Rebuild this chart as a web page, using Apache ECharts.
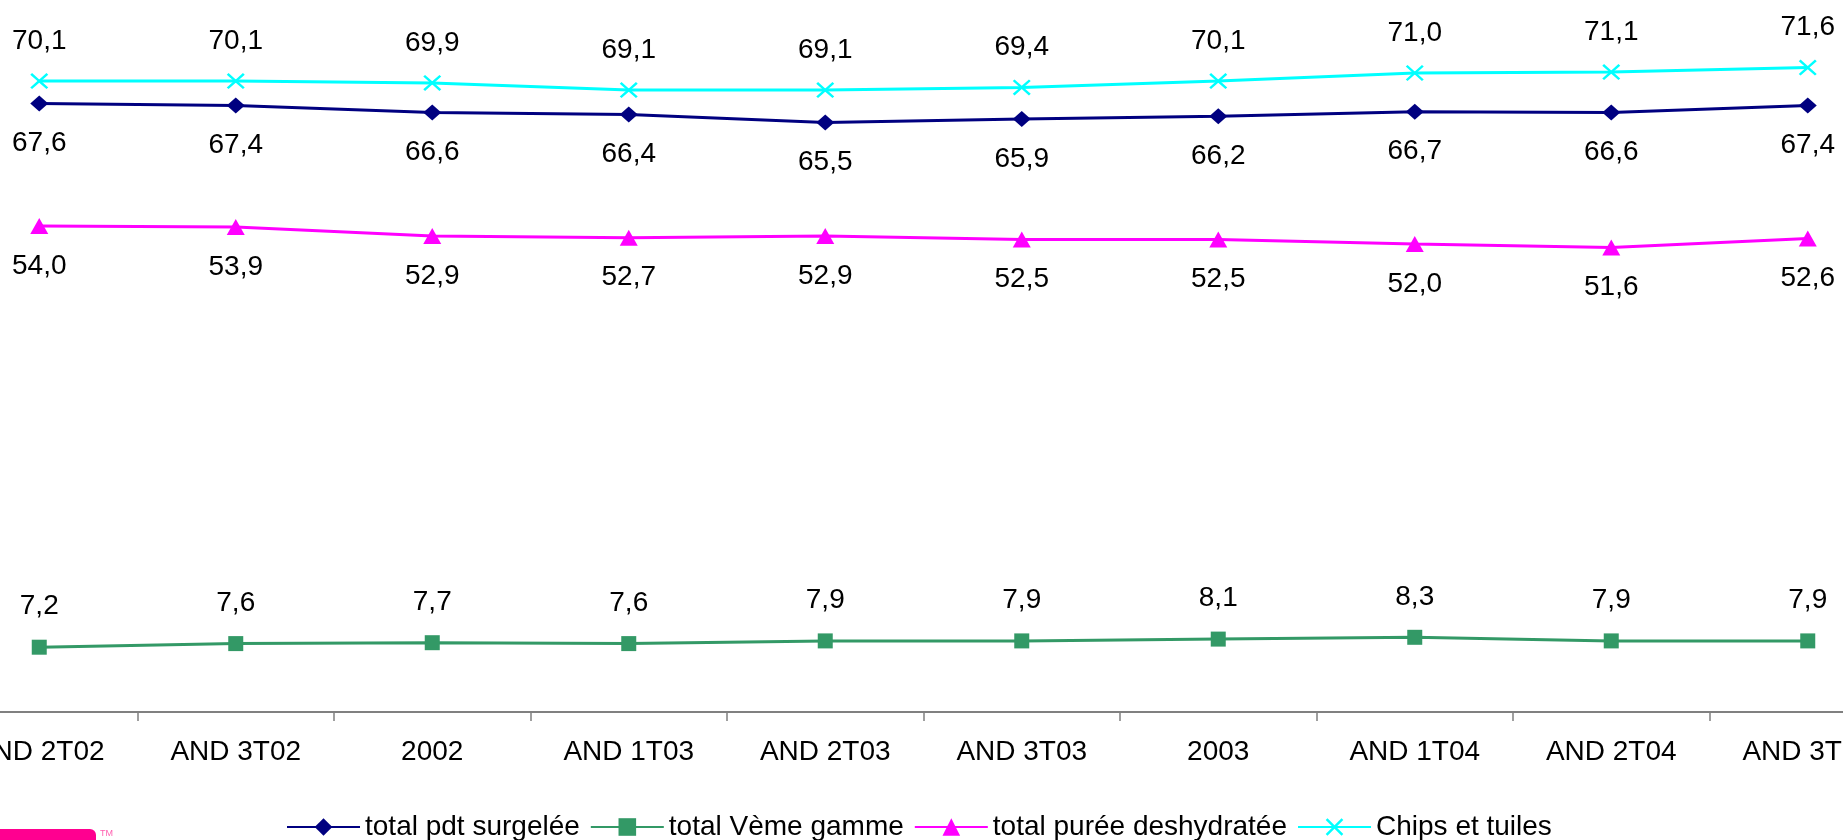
<!DOCTYPE html>
<html>
<head>
<meta charset="utf-8">
<script src="https://cdn.jsdelivr.net/npm/echarts@6/dist/echarts.min.js"></script>
<style>
  html, body { margin: 0; padding: 0; background: #ffffff; overflow: hidden; width: 1843px; height: 840px; }
  /* The plot is wider than the page: the outer category bands run past both edges */
  #chart { position: absolute; left: -59px; top: -8px; width: 1965px; height: 848px; }
</style>
</head>
<body>
<div id="chart"></div>
<script>
// Periods (rolling quarters and full years)
const categories = ['AND 2T02', 'AND 3T02', '2002', 'AND 1T03', 'AND 2T03', 'AND 3T03', '2003', 'AND 1T04', 'AND 2T04', 'AND 3T04'];

// Series values
const surgelee = [67.6, 67.4, 66.6, 66.4, 65.5, 65.9, 66.2, 66.7, 66.6, 67.4];
const vemeGamme = [7.2, 7.6, 7.7, 7.6, 7.9, 7.9, 8.1, 8.3, 7.9, 7.9];
const puree = [54.0, 53.9, 52.9, 52.7, 52.9, 52.5, 52.5, 52.0, 51.6, 52.6];
const chips = [70.1, 70.1, 69.9, 69.1, 69.1, 69.4, 70.1, 71.0, 71.1, 71.6];

const FONT = '"Liberation Sans", Arial, sans-serif';
const OX = 59, OY = 8; // container offset relative to the page
const fmt = p => p.value.toFixed(1).replace('.', ',');
const crossPath = 'path://M0,1L1,0L5,4L9,0L10,1L6,5L10,9L9,10L5,6L1,10L0,9L4,5Z';

function makeSeries(name, data, color, symbol, size, labelPos, dist) {
  return {
    name: name,
    type: 'line',
    data: data,
    symbol: symbol,
    symbolSize: size,
    lineStyle: { color: color, width: 3 },
    itemStyle: { color: color },
    label: {
      show: true,
      position: labelPos,
      distance: dist,
      formatter: fmt,
      color: '#000000',
      fontFamily: FONT,
      fontSize: 28
    }
  };
}

const chart = echarts.init(document.getElementById('chart'));
chart.setOption({
  animation: false,
  backgroundColor: '#ffffff',
  grid: { left: 0, right: 0, top: 0, bottom: 128 },
  legend: {
    left: 286 + OX,
    top: 813 + OY,
    padding: 0,
    itemWidth: 73,
    itemHeight: 22,
    itemGap: 10,
    textStyle: { color: '#000000', fontFamily: FONT, fontSize: 28 },
    data: ['total pdt surgelée', 'total Vème gamme', 'total purée deshydratée', 'Chips et tuiles']
  },
  xAxis: {
    type: 'category',
    data: categories,
    boundaryGap: true,
    axisLine: { lineStyle: { color: '#808080', width: 2 } },
    axisTick: { show: true, interval: 0, length: 9, lineStyle: { color: '#808080', width: 1.5 } },
    axisLabel: { interval: 0, margin: 26, color: '#000000', fontFamily: FONT, fontSize: 28 }
  },
  yAxis: {
    type: 'value',
    min: 0,
    max: 80,
    show: false,
    splitLine: { show: false }
  },
  series: [
    makeSeries('total pdt surgelée', surgelee, '#000080', 'diamond', [18, 16], 'bottom', 18),
    makeSeries('total Vème gamme', vemeGamme, '#339966', 'rect', [15, 15], 'top', 19),
    makeSeries('total purée deshydratée', puree, '#FF00FF', 'triangle', [18, 16], 'bottom', 18),
    makeSeries('Chips et tuiles', chips, '#00FFFF', crossPath, [18, 16], 'top', 18)
  ],
  graphic: [
    { type: 'rect', left: OX, top: 829 + OY, shape: { width: 96, height: 16, r: [0, 6, 0, 0] }, style: { fill: '#FF0090' } },
    { type: 'text', left: 100 + OX, top: 829 + OY, style: { text: 'TM', fill: '#FF60B0', font: '9px "Liberation Sans", Arial, sans-serif' } }
  ]
});
</script>
</body>
</html>
